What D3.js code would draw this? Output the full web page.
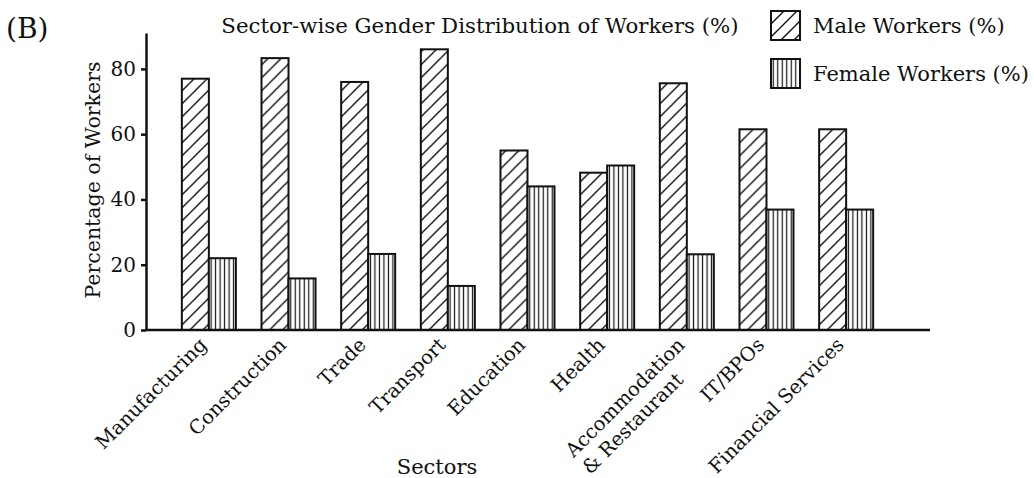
<!DOCTYPE html>
<html>
<head>
<meta charset="utf-8">
<script src="https://cdn.jsdelivr.net/npm/d3@7"></script>
<style>
  html, body { margin: 0; padding: 0; background: #fff; }
  svg { display: block; }
  text { font-family: "DejaVu Serif", serif; fill: #111; }
</style>
</head>
<body>
<svg id="chart" width="1034" height="478"></svg>
<script>
const categories = ["Manufacturing", "Construction", "Trade", "Transport", "Education", "Health", "Accommodation\n& Restaurant", "IT/BPOs", "Financial Services"];
const maleValues = [77, 83.3, 76, 86, 55, 48.2, 75.6, 61.5, 61.5];
const femaleValues = [22, 15.8, 23.3, 13.5, 44, 50.4, 23.2, 36.9, 36.9];
const seriesNames = ["Male Workers (%)", "Female Workers (%)"];
const yTicks = [0, 20, 40, 60, 80];
const titleText = "Sector-wise Gender Distribution of Workers (%)";
const panelLabel = "(B)";
const xLabel = "Sectors";
const yLabel = "Percentage of Workers";

const W = 1034, H = 478;
const margin = { left: 146, right: 104, top: 33, bottom: 148 };
const plotRight = W - margin.right;
const baseY = H - margin.bottom;

const svg = d3.select("#chart");
const defs = svg.append("defs");

// hatch patterns
const diag = defs.append("pattern").attr("id", "hatchDiag")
  .attr("patternUnits", "userSpaceOnUse").attr("width", 13).attr("height", 13);
diag.append("rect").attr("width", 13).attr("height", 13).attr("fill", "#fff");
diag.append("path").attr("d", "M0,13 L13,0 M-3,3 L3,-3 M10,16 L16,10")
  .attr("stroke", "#111").attr("stroke-width", 1.4);

const vert = defs.append("pattern").attr("id", "hatchVert")
  .attr("patternUnits", "userSpaceOnUse").attr("width", 4.5).attr("height", 10);
vert.append("rect").attr("width", 4.5).attr("height", 10).attr("fill", "#fff");
vert.append("line").attr("x1", 2.25).attr("x2", 2.25).attr("y1", 0).attr("y2", 10)
  .attr("stroke", "#111").attr("stroke-width", 1.2);

const fills = ["url(#hatchDiag)", "url(#hatchVert)"];

const x0 = d3.scaleBand().domain(categories).range([margin.left, 909])
  .paddingInner(0.322).paddingOuter(0.45);
const x1 = d3.scaleBand().domain([0, 1]).range([0, x0.bandwidth()]);
const y = d3.scaleLinear().domain([0, 91]).range([baseY, margin.top]);

const data = categories.map((c, i) => ({ cat: c, vals: [maleValues[i], femaleValues[i]] }));

// bars
const groups = svg.append("g").selectAll("g").data(data).join("g")
  .attr("transform", d => `translate(${x0(d.cat)},0)`);
groups.selectAll("rect").data(d => d.vals.map((v, k) => ({ v, k }))).join("rect")
  .attr("x", d => x1(d.k))
  .attr("width", x1.bandwidth())
  .attr("y", d => y(d.v))
  .attr("height", d => y(0) - y(d.v))
  .attr("fill", d => fills[d.k])
  .attr("stroke", "#111").attr("stroke-width", 2);

// y axis
const yAxis = svg.append("g").attr("transform", `translate(${margin.left},0)`)
  .call(d3.axisLeft(y).tickValues(yTicks).tickSize(5).tickPadding(5).tickSizeOuter(0));
yAxis.select(".domain").attr("stroke", "#111").attr("stroke-width", 2.5);
yAxis.selectAll(".tick line").attr("stroke", "#111").attr("stroke-width", 2.5);
yAxis.selectAll(".tick text").attr("font-size", 20).attr("font-family", "DejaVu Serif").attr("fill", "#111");

// x axis baseline
svg.append("line").attr("x1", margin.left - 1).attr("x2", plotRight)
  .attr("y1", baseY).attr("y2", baseY)
  .attr("stroke", "#111").attr("stroke-width", 2.5);

// x tick labels (rotated)
const xl = svg.append("g").selectAll("text").data(categories).join("text")
  .attr("font-size", 19.5)
  .attr("transform", d => `translate(${x0(d) + x0.bandwidth() / 2 - 1},${baseY + 16}) rotate(-45)`);
xl.each(function(d) {
  const t = d3.select(this);
  const lines = d.split("\n");
  lines.forEach((ln, i) => {
    t.append("tspan").attr("x", 0).attr("dy", i === 0 ? 0 : "1.22em").text(ln);
  });
  let w = 0;
  t.selectAll("tspan").each(function() { w = Math.max(w, this.getComputedTextLength()); });
  t.selectAll("tspan").attr("x", -w);
});

// labels
svg.append("text").attr("x", 6).attr("y", 38).attr("font-size", 28).text(panelLabel);
svg.append("text").attr("x", 480).attr("y", 33).attr("text-anchor", "middle")
  .attr("font-size", 21.3).text(titleText);
svg.append("text").attr("x", 437).attr("y", 474).attr("text-anchor", "middle")
  .attr("font-size", 21).text(xLabel);
svg.append("text").attr("transform", `translate(100,180) rotate(-90)`)
  .attr("text-anchor", "middle").attr("font-size", 20.5).text(yLabel);

// legend
const leg = svg.append("g").selectAll("g").data(seriesNames).join("g")
  .attr("transform", (d, i) => `translate(771,${11 + i * 48})`);
leg.append("rect").attr("width", 29).attr("height", 29)
  .attr("fill", (d, i) => fills[i]).attr("stroke", "#111").attr("stroke-width", 2);
leg.append("text").attr("x", 42).attr("y", 22).attr("font-size", 21).text(d => d);
</script>
</body>
</html>
